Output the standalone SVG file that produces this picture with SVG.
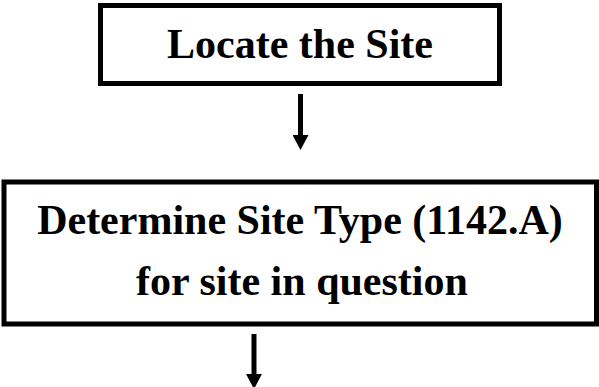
<svg xmlns="http://www.w3.org/2000/svg" width="599" height="387" viewBox="0 0 599 387">
  <style>
    .box { fill: #ffffff; stroke: #000000; stroke-width: 5; }
    .label { font-family: "Liberation Serif", "Times New Roman", serif; font-weight: bold; font-size: 42px; fill: #000000; text-anchor: middle; }
    .conn { stroke: #000000; stroke-width: 5; fill: none; }
  </style>
  <defs>
    <marker id="arrow" viewBox="0 0 15 16" markerWidth="15" markerHeight="16" refX="1" refY="8" orient="auto" markerUnits="userSpaceOnUse">
      <path d="M0,0 L15,8 L0,16 Z" fill="#000000"/>
    </marker>
  </defs>
  <rect x="0" y="0" width="599" height="387" fill="#ffffff"/>
  <g id="node-locate">
    <rect class="box" x="100.5" y="5.5" width="399" height="78"/>
    <text class="label" x="300" y="58">Locate the Site</text>
  </g>
  <g id="node-determine">
    <rect class="box" x="4" y="182" width="592.5" height="142"/>
    <text class="label" x="300" y="234">Determine Site Type (1142.A)</text>
    <text class="label" x="302" y="295">for site in question</text>
  </g>
  <g id="connectors">
    <line class="conn" x1="300.5" y1="94" x2="300.5" y2="136" marker-end="url(#arrow)"/>
    <line class="conn" x1="254" y1="334" x2="254" y2="375" marker-end="url(#arrow)"/>
  </g>
</svg>
